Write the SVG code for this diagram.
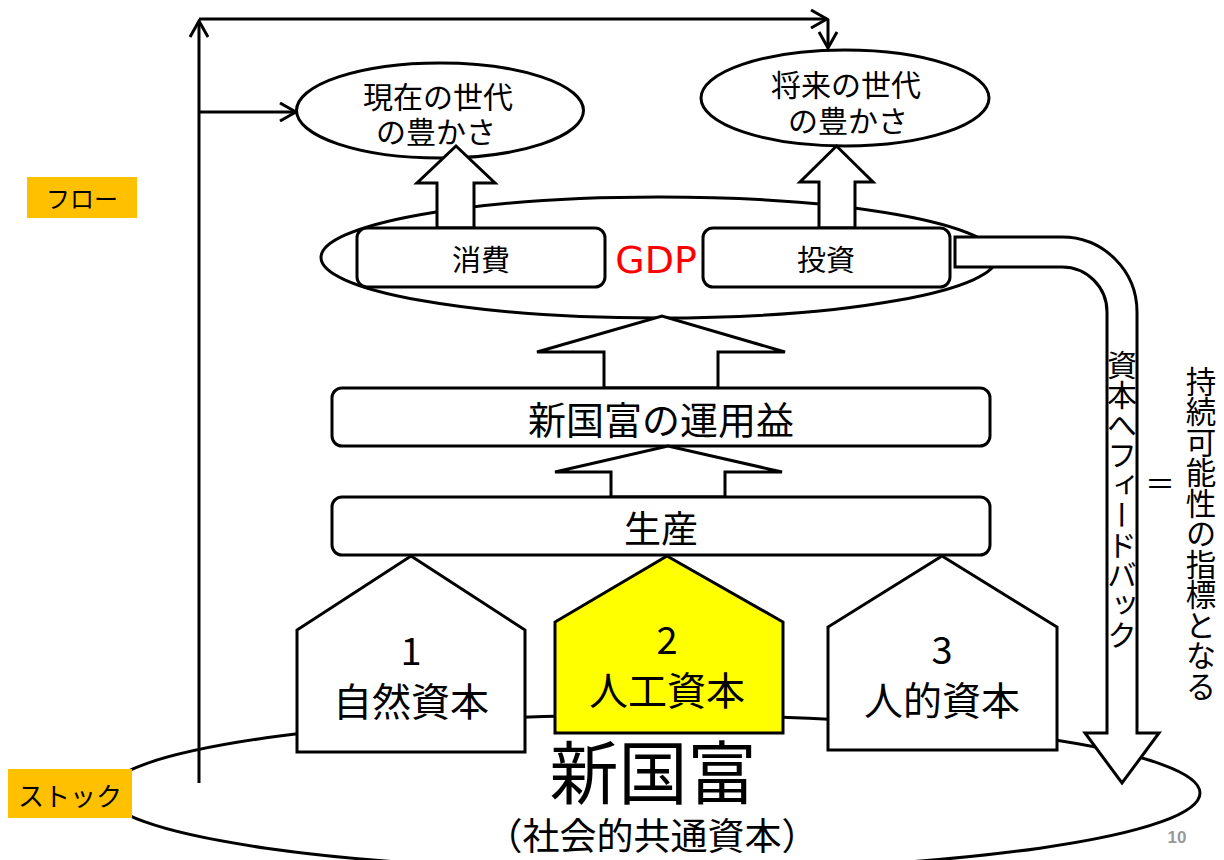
<svg xmlns="http://www.w3.org/2000/svg" width="1224" height="860" viewBox="0 0 1224 860">
<style>
.s{fill:#fff;stroke:#000;stroke-width:3;stroke-linejoin:miter}
.ln{fill:none;stroke:#000;stroke-width:3}
.t{font-family:"Noto Sans CJK JP","Noto Sans",sans-serif;fill:#000;text-anchor:middle;dominant-baseline:central}
.lab{fill:#FFC000}
</style>
<defs>
<marker id="chev" viewBox="0 0 20 20" refX="18" refY="10" markerWidth="20" markerHeight="20" markerUnits="userSpaceOnUse" orient="auto">
<path d="M2,1 L18,10 L2,19" fill="none" stroke="#000" stroke-width="3"/>
</marker>
</defs>
<rect width="1224" height="860" fill="#fff"/>

<g id="stock-ellipse">
<ellipse class="s" cx="653" cy="793" rx="547" ry="78"/>
</g>

<g id="label-stock">
<rect class="lab" x="8" y="769" width="124" height="49"/>
<text class="t" x="70" y="794" font-size="26">ストック</text>
</g>
<g id="label-flow">
<rect class="lab" x="27" y="177" width="110" height="41"/>
<text class="t" x="82" y="197" font-size="24">フロー</text>
</g>

<g id="connectors">
<path class="ln" d="M199 783 V21" marker-end="url(#chev)"/>
<path class="ln" d="M199 19 H827" marker-end="url(#chev)"/>
<path class="ln" d="M828 19 V48" marker-end="url(#chev)"/>
<path class="ln" d="M199 112 H296" marker-end="url(#chev)"/>
</g>

<g id="current-wealth">
<ellipse class="s" cx="440" cy="110.5" rx="143.5" ry="47.5"/>
<text class="t" font-size="30"><tspan x="438" y="95">現在の世代</tspan><tspan x="436" y="130">の豊かさ</tspan></text>
</g>
<g id="future-wealth">
<ellipse class="s" cx="845" cy="98" rx="144" ry="48"/>
<text class="t" font-size="30"><tspan x="846" y="83">将来の世代</tspan><tspan x="848" y="119">の豊かさ</tspan></text>
</g>

<g id="gdp">
<ellipse class="s" cx="659" cy="257.5" rx="338" ry="60.5"/>
<text x="656" y="273" font-family="DejaVu Sans,sans-serif" font-size="38" fill="#FF0000" text-anchor="middle">GDP</text>
</g>

<g id="arrow-consumption">
<path class="s" d="M437 228 V183 H417 L456 146 L495 183 H474 V228 Z"/>
</g>
<g id="arrow-investment">
<path class="s" d="M819 228 V182 H800 L836.5 146 L873 182 H855 V228 Z"/>
</g>

<g id="consumption">
<rect class="s" x="357" y="228" width="248" height="59" rx="10"/>
<text class="t" x="481" y="258" font-size="29">消費</text>
</g>
<g id="investment">
<rect class="s" x="703" y="228" width="247" height="59" rx="10"/>
<text class="t" x="826" y="258" font-size="29">投資</text>
</g>

<g id="feedback">
<path class="s" d="M955 237 H1062 A75 75 0 0 1 1137 312 V733 H1159 L1122 783 L1085 733 H1107 V312 A45 45 0 0 0 1062 267 H955 Z"/>
<text class="t" x="1122" y="350" font-size="30" style="writing-mode:vertical-rl;text-anchor:start">資本へフィードバック</text>
</g>

<g id="sustainability">
<text class="t" x="1160" y="482" font-size="30">＝</text>
<text class="t" x="1201" y="366" font-size="30.5" style="writing-mode:vertical-rl;text-anchor:start">持続可能性の指標となる</text>
</g>

<g id="arrow-return">
<path class="s" d="M604 388 V352 H537 L662 316 L785 352 H718 V388 Z"/>
</g>
<g id="return">
<rect class="s" x="332" y="388" width="658" height="58" rx="10"/>
<text class="t" x="661" y="417" font-size="38">新国富の運用益</text>
</g>
<g id="arrow-production">
<path class="s" d="M611 497 V472 H555 L668 446 L782 472 H725 V497 Z"/>
</g>
<g id="production">
<rect class="s" x="332" y="497" width="658" height="58" rx="10"/>
<text class="t" x="661" y="527" font-size="37">生産</text>
</g>

<g id="natural-capital">
<path class="s" d="M411 556 L525 630 V752 H297 V630 Z"/>
<text class="t" x="411" y="648" font-size="38">1</text>
<text class="t" x="411" y="699" font-size="39">自然資本</text>
</g>
<g id="manufactured-capital">
<path d="M667 556 L783 622 V733 H555 V622 Z" fill="#FFFF00" stroke="#000" stroke-width="3"/>
<text class="t" x="667" y="637" font-size="38">2</text>
<text class="t" x="667" y="688" font-size="39">人工資本</text>
</g>
<g id="human-capital">
<path class="s" d="M942 556 L1057 627 V750 H828 V627 Z"/>
<text class="t" x="942" y="647" font-size="38">3</text>
<text class="t" x="942" y="698" font-size="39">人的資本</text>
</g>

<g id="inclusive-wealth">
<text class="t" x="653" y="769" font-size="69">新国富</text>
<text class="t" x="652" y="834" font-size="37">（社会的共通資本）</text>
</g>

<text x="1177" y="843" font-family="Liberation Sans,sans-serif" font-size="17" font-weight="bold" fill="#999" text-anchor="middle">10</text>
</svg>
